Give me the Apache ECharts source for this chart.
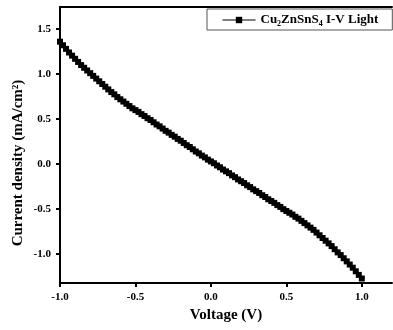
<!DOCTYPE html>
<html>
<head>
<meta charset="utf-8">
<script src="https://cdn.jsdelivr.net/npm/echarts@6/dist/echarts.min.js"></script>
<style>html,body{margin:0;padding:0;background:#fff}#c{width:393px;height:330px}</style>
</head>
<body>
<div id="c"></div>
<script>
var voltage = [];
for (var i = 0; i <= 100; i++) voltage.push(+(-1 + i * 0.02).toFixed(2));
var currentDensity = [
 1.36, 1.32, 1.28, 1.24, 1.205, 1.17,
 1.135, 1.10, 1.07, 1.04, 1.01,
 0.98, 0.95, 0.92, 0.89, 0.86,
 0.83, 0.80, 0.775, 0.745, 0.72,
 0.695, 0.67, 0.645, 0.62, 0.60,
 0.58, 0.555, 0.535, 0.51, 0.49,
 0.465, 0.44, 0.42, 0.395, 0.37,
 0.35, 0.325, 0.305, 0.28, 0.26,
 0.235, 0.21, 0.19, 0.165, 0.14,
 0.12, 0.095, 0.075, 0.05, 0.03,
 0.01, -0.015, -0.035, -0.06, -0.08,
 -0.10, -0.125, -0.145, -0.17, -0.19,
 -0.21, -0.235, -0.255, -0.28, -0.30,
 -0.32, -0.345, -0.365, -0.39, -0.41,
 -0.43, -0.455, -0.475, -0.50, -0.52,
 -0.54, -0.56, -0.585, -0.605, -0.63,
 -0.655, -0.68, -0.705, -0.73, -0.76,
 -0.79, -0.82, -0.85, -0.88, -0.91,
 -0.945, -0.98, -1.01, -1.045, -1.08,
 -1.115, -1.15, -1.19, -1.23, -1.27
];
var xTicks = [-1.0, -0.5, 0.0, 0.5, 1.0];
var yTicks = [-1.0, -0.5, 0.0, 0.5, 1.0, 1.5];
var seriesName = 'Cu2ZnSnS4 I-V Light';
var xTitle = 'Voltage (V)';
var yTitle = 'Current density (mA/cm²)';

var data = voltage.map(function (v, i) { return [v, currentDensity[i]]; });
var serif = '"Liberation Serif", "Times New Roman", serif';
var lab = { fontFamily: serif, fontWeight: 'bold', fontSize: 11, color: '#000' };

var chart = echarts.init(document.getElementById('c'), null, { renderer: 'canvas' });
chart.setOption({
  animation: false,
  backgroundColor: '#fff',
  grid: { left: 60, right: 1, top: 7, bottom: 47, containLabel: false },
  legend: {
    left: 207, top: 9,
    data: [seriesName],
    itemWidth: 33, itemHeight: 8,
    padding: [3, 14, 2, 15],
    borderColor: '#555', borderWidth: 1, borderRadius: 0,
    backgroundColor: '#fff',
    lineStyle: { width: 1, color: '#000' },
    formatter: function () { return 'Cu{sub|2}ZnSnS{sub|4} I-V Light'; },
    textStyle: {
      fontFamily: serif, fontWeight: 'bold', fontSize: 13, color: '#000', lineHeight: 16,
      rich: { sub: { fontFamily: serif, fontWeight: 'bold', fontSize: 8, lineHeight: 8, verticalAlign: 'bottom', color: '#000' } }
    }
  },
  xAxis: [{
    type: 'value', min: -1.0, max: 1.2,
    name: xTitle, nameLocation: 'middle', nameGap: 24,
    nameTextStyle: { fontFamily: serif, fontWeight: 'bold', fontSize: 15, color: '#000' },
    axisLine: { onZero: false, lineStyle: { color: '#000', width: 2 } },
    axisTick: { show: true, length: 4, inside: false, lineStyle: { color: '#000', width: 2 }, customValues: xTicks },
    axisLabel: Object.assign({ margin: 9, customValues: xTicks, formatter: function (v) { return v.toFixed(1); } }, lab),
    splitLine: { show: false }
  }, {
    type: 'value', position: 'top', min: -1.0, max: 1.2,
    axisLine: { onZero: false, lineStyle: { color: '#000', width: 2 } },
    axisTick: { show: false }, axisLabel: { show: false }, splitLine: { show: false }
  }],
  yAxis: {
    type: 'value', min: -1.32, max: 1.745,
    axisLine: { show: true, onZero: false, lineStyle: { color: '#000', width: 2 } },
    axisTick: { show: true, length: 4, lineStyle: { color: '#000', width: 2 }, customValues: yTicks },
    axisLabel: Object.assign({ margin: 9, customValues: yTicks, formatter: function (v) { return v.toFixed(1); } }, lab),
    splitLine: { show: false }
  },
  graphic: [{
    type: 'text', x: 18, y: 163, rotation: Math.PI / 2,
    style: { text: yTitle, fontFamily: serif, fontWeight: 'bold', fontSize: 15, fill: '#000', align: 'center', verticalAlign: 'middle' }
  }],
  series: [{
    name: seriesName, type: 'line', data: data,
    symbol: 'rect', symbolSize: 6, showAllSymbol: true,
    itemStyle: { color: '#000' },
    lineStyle: { color: '#000', width: 1 }
  }]
});
</script>
</body>
</html>
